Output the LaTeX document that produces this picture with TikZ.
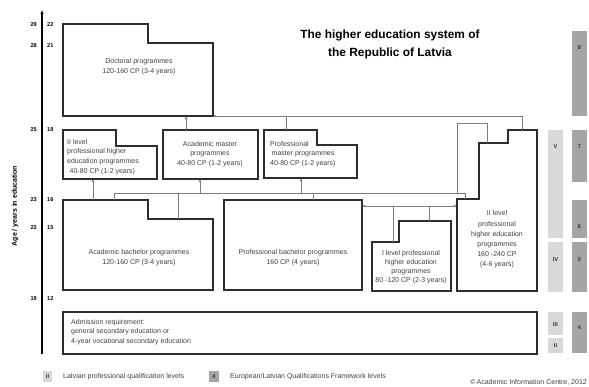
\documentclass[tikz,border=0pt]{standalone}
\usepackage{fontspec}
\setmainfont{Liberation Sans}
\usepackage{tikz}
\usetikzlibrary{arrows.meta}
\definecolor{boxline}{RGB}{45,45,45}
\definecolor{linkline}{RGB}{125,125,125}
\definecolor{eqfbar}{RGB}{165,165,165}
\definecolor{lvbar}{RGB}{216,216,216}
\tikzset{
	prog/.style={draw=boxline, line width=1.1pt, line join=miter},
	link/.style={draw=linkline, line width=0.75pt},
	linkarrow/.style={link, -{Latex[length=3.2pt,width=3pt]}},
	txt/.style={font=\fontsize{7}{9.8}\selectfont, text=black!75, inner sep=0pt},
	agelbl/.style={font=\fontsize{5.6}{6}\selectfont\bfseries, inner sep=0pt},
	barlbl/.style={font=\fontsize{5.6}{6}\selectfont\bfseries, text=black!80, inner sep=0pt},
}
\begin{document}
\begin{tikzpicture}[x=1pt,y=-1pt]
				\useasboundingbox (0,0) rectangle (589,387);
				
				\node[font=\fontsize{11.9}{18}\selectfont\bfseries, align=center, inner sep=0pt] (title) at (390,44) {The higher education system of\\the Republic of Latvia};
				
				\draw[line width=1.3pt, -{Latex[length=4pt,width=3.5pt]}] (42,354)--(42,10);
				\node[font=\fontsize{7}{7}\selectfont\bfseries, rotate=90, inner sep=0pt] (agetitle) at (15,206) {Age / years in education};
				\foreach \yy/\a/\b in {25/29/22, 46/28/21, 130/25/18, 200/23/16, 228/22/15, 299/19/12}{
					\node[agelbl, anchor=east] (age\a) at (37,\yy) {\a};
					\node[agelbl, anchor=west] (yrs\b) at (47,\yy) {\b};
				}
				
				\draw[prog] (63,24)--(148,24)--(148,43)--(213,43)--(213,116)--(63,116)--cycle;
				\node[txt, align=center] (doctoral) at (139,66.5) {Doctoral programmes\\120-160 CP (3-4 years)};
				
				\draw[prog] (63,130)--(116,130)--(116,146)--(157,146)--(157,179)--(63,179)--cycle;
				\node[txt, align=left, anchor=west] (twoprofmaster) at (67,157) {II level\\professional higher\\education programmes\\\hspace{2.5pt}40-80 CP (1-2 years)};
				
				\draw[prog] (163,130) rectangle (258,179);
				\node[txt, align=center] (acmaster) at (210,154) {Academic master\\programmes\\40-80 CP (1-2 years)};
				
				\draw[prog] (264,130)--(317,130)--(317,145)--(357,145)--(357,178)--(264,178)--cycle;
				\node[txt, align=left, anchor=west] (profmaster) at (270,154) {Professional\\\hspace{1.5pt}master programmes\\40-80 CP (1-2 years)};
				
				\draw[prog] (63,200)--(148,200)--(148,219)--(213,219)--(213,290)--(63,290)--cycle;
				\node[txt, align=center] (acbachelor) at (139,258) {Academic bachelor programmes\\120-160 CP (3-4 years)};
				
				\draw[prog] (224,200) rectangle (362,290);
				\node[txt, align=center] (profbachelor) at (293,258) {Professional bachelor programmes\\160 CP (4 years)};
				
				\draw[prog] (372,242)--(399,242)--(399,221)--(451,221)--(451,291)--(372,291)--cycle;
				\node[txt, align=center, font=\fontsize{7}{9}\selectfont] (onelevel) at (411,267.5) {I level professional\\higher education\\programmes\\80 -120 CP (2-3 years)};
				
				\draw[prog] (508,130)--(537,130)--(537,291)--(457,291)--(457,199)--(479,199)--(479,143)--(508,143)--cycle;
				\node[txt, align=center, font=\fontsize{7}{10.2}\selectfont] (twolevel) at (497,239.5) {II level\\professional\\higher education\\programmes\\160 -240 CP\\(4-6 years)};
				
				\draw[prog, line width=1.6pt] (63,312) rectangle (537,354);
				\node[txt, align=left, anchor=west] (admission) at (71,332) {Admission requirement:\\general secondary education or\\4-year vocational secondary education};
				
				\coordinate (docSE) at (213,116);
				\coordinate (docIn) at (186,116);
				\coordinate (amTop) at (186,130);
				\coordinate (pmTop) at (286,130);
				\coordinate (tlTop) at (522,130);
				\coordinate (bus) at (0,193);
				\coordinate (tlStep) at (465,199);
				\coordinate (abTop) at (114,200);
				\coordinate (abStep) at (178,219);
				\coordinate (pbTop) at (313,200);
				\coordinate (amIn) at (200,179);
				\coordinate (pmIn) at (301,178);
				\coordinate (ab2Top) at (93,200);
				\coordinate (tpIn) at (93,179);
				\coordinate (pbE) at (362,206);
				\coordinate (tlW) at (457,206);
				\coordinate (olTop) at (393,242);
				\coordinate (olStep) at (429,221);
				\coordinate (tlBack) at (487,143);
				
				\draw[linkarrow] (tlTop)--(tlTop |- docSE)--(docSE);
				\draw[link] (pmTop)--(pmTop |- docSE);
				\draw[linkarrow] (amTop)--(docIn);
				
				\draw[link] (abTop)--(abTop |- bus)--(tlStep |- bus)--(tlStep);
				\draw[link] (abStep)--(abStep |- bus);
				\draw[link] (pbTop)--(pbTop |- bus);
				\draw[linkarrow] (amIn |- bus)--(amIn);
				\draw[linkarrow] (pmIn |- bus)--(pmIn);
				\draw[linkarrow] (ab2Top)--(tpIn);
				\draw[link] (457,193)--(457,123)--(tlBack |- 0,123)--(tlBack);
				
				\draw[link, {Latex[length=3.2pt,width=3pt]}-{Latex[length=3.2pt,width=3pt]}] (pbE)--(tlW);
				\draw[link] (olTop)--(olTop |- pbE);
				\draw[link] (olStep)--(olStep |- pbE);
				
				\foreach \ya/\yb/\yl/\lv in {31/116/48/8, 130/182/147/7, 200/238/227/6, 242/292/260/5, 312/353/328/4}{
					\fill[eqfbar] (572,\ya) rectangle (587,\yb);
					\node[barlbl] (eqf\lv) at (579.5,\yl) {\lv};
				}
				\foreach \ya/\yb/\yl/\lv in {130/238/147/V, 242/292/260/IV, 312/335/325/III, 338/353/346/II}{
					\fill[lvbar] (548,\ya) rectangle (563,\yb);
					\node[barlbl] (lv\lv) at (555.5,\yl) {\lv};
				}
				
				\fill[lvbar] (43,371) rectangle (52,382);
				\node[barlbl] (keylv) at (47.5,376.5) {II};
				\node[txt, anchor=west] (keylvtext) at (63,377) {Latvian professional qualification levels};
				\fill[eqfbar] (209,371) rectangle (219,382);
				\node[barlbl] (keyeqf) at (214,376.5) {4};
				\node[txt, anchor=west] (keyeqftext) at (230,377) {European/Latvian Qualifications Framework levels};
				\node[txt, anchor=east] (copyright) at (587,382) {\textcopyright\,Academic Information Centre, 2012};
			
			\end{tikzpicture}
\end{document}
